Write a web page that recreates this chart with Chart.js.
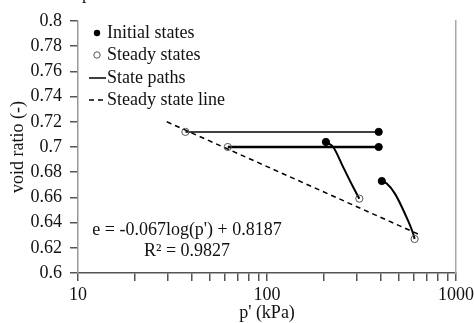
<!DOCTYPE html>
<html>
<head>
<meta charset="utf-8">
<script src="https://cdn.jsdelivr.net/npm/chart.js@4"></script>
<style>
  body { margin: 0; background: #fff; }
  #wrap { width: 474px; height: 323px; position: relative; }
</style>
</head>
<body>
<div id="wrap"><canvas id="stateChart"></canvas></div>
<script>
// p' (kPa) / void ratio values
const initialP = [390, 390, 205, 405];
const initialE = [0.712, 0.7, 0.704, 0.673];
const steadyP = [37, 62, 308, 604];
const steadyE = [0.712, 0.7, 0.659, 0.627];

const pathP = [
    [390, 37],
    [390, 62],
    [205, 224, 253, 286, 308],
    [405, 430, 475, 537, 594, 604],
];
const pathE = [
    [0.712, 0.712],
    [0.7, 0.7],
    [0.704, 0.7, 0.684, 0.668, 0.659],
    [0.673, 0.671, 0.663, 0.647, 0.631, 0.627],
];
const pathWidth = [1.5, 2.5, 2, 2];

const sslP = [29.5, 650];
const sslE = [0.72, 0.63];

const xTickLabels = ["10", "100", "1000"];
const yTickLabels = ["0.6", "0.62", "0.64", "0.66", "0.68", "0.7", "0.72", "0.74", "0.76", "0.78", "0.8"];

const legendLabels = ["Initial states", "Steady states", "State paths", "Steady state line"];
const fitText = ["e = -0.067log(p') + 0.8187", "R\u00b2 = 0.9827"];

const FONT = "'Liberation Serif', 'Times New Roman', serif";
const INK = "#111";

const toXY = (xs, ys) => xs.map((x, i) => ({ x: x, y: ys[i] }));

const datasets = [
    {
        label: legendLabels[0],
        data: toXY(initialP, initialE),
        showLine: false,
        pointRadius: 3.6,
        pointBackgroundColor: "#000",
        pointBorderColor: "#000",
        pointBorderWidth: 1,
    },
    {
        label: legendLabels[1],
        data: toXY(steadyP, steadyE),
        showLine: false,
        pointRadius: 3.6,
        pointBackgroundColor: "rgba(255,255,255,0)",
        pointBorderColor: "#555",
        pointBorderWidth: 1,
    },
];

pathP.forEach((xs, i) => {
    datasets.push({
        label: i === 0 ? legendLabels[2] : "",
        data: toXY(xs, pathE[i]),
        showLine: true,
        borderColor: "#000",
        borderWidth: pathWidth[i],
        pointRadius: 0,
        tension: 0.4,
        cubicInterpolationMode: "monotone",
    });
});

datasets.push({
    label: legendLabels[3],
    data: toXY(sslP, sslE),
    showLine: true,
    borderColor: "#000",
    borderWidth: 1.5,
    borderDash: [5, 4],
    pointRadius: 0,
});

// legend inside plot + trendline text
const overlayText = {
    id: "overlayText",
    afterDraw(chart) {
        const ctx = chart.ctx;
        ctx.save();
        ctx.font = "18px " + FONT;
        ctx.textBaseline = "middle";

        const rows = [33, 55, 78, 100];
        const textX = 107;

        // filled dot
        ctx.beginPath();
        ctx.arc(97, rows[0], 3.2, 0, Math.PI * 2);
        ctx.fillStyle = "#000";
        ctx.fill();
        // open dot
        ctx.beginPath();
        ctx.arc(97, rows[1], 3.2, 0, Math.PI * 2);
        ctx.strokeStyle = "#555";
        ctx.lineWidth = 1;
        ctx.stroke();
        // solid line
        ctx.beginPath();
        ctx.moveTo(89, rows[2]);
        ctx.lineTo(106, rows[2]);
        ctx.strokeStyle = "#000";
        ctx.lineWidth = 1.5;
        ctx.stroke();
        // dashed line
        ctx.setLineDash([5, 4]);
        ctx.beginPath();
        ctx.moveTo(89, rows[3]);
        ctx.lineTo(107, rows[3]);
        ctx.stroke();
        ctx.setLineDash([]);

        ctx.fillStyle = INK;
        ctx.textAlign = "left";
        legendLabels.forEach((t, i) => ctx.fillText(t, textX, rows[i]));

        ctx.textAlign = "center";
        ctx.fillText(fitText[0], 187, 230);
        ctx.fillText(fitText[1], 187, 251);

        // cut-off letter from the figure above
        ctx.textAlign = "left";
        ctx.textBaseline = "alphabetic";
        ctx.fillText("p", 82, -1);
        ctx.restore();
    },
};

// keep only 1..9 x 10^n ticks on the log axis
const isDecadeStep = (v) => {
    const sig = v / Math.pow(10, Math.floor(Math.log10(v) + 1e-9));
    return Math.abs(sig - Math.round(sig)) < 1e-6;
};

new Chart(document.getElementById("stateChart"), {
    type: "scatter",
    data: { datasets: datasets },
    options: {
        responsive: true,
        maintainAspectRatio: false,
        animation: false,
        layout: { padding: { top: 21, right: 18, left: 0, bottom: 0 } },
        plugins: {
            legend: { display: false },
            tooltip: { enabled: false },
        },
        scales: {
            x: {
                type: "logarithmic",
                min: 10,
                max: 1000,
                afterBuildTicks: (scale) => {
                    scale.ticks = scale.ticks.filter((t) => isDecadeStep(t.value));
                },
                afterFit: (scale) => {
                    scale.height = 50;
                    scale.paddingLeft = 0;
                    scale.paddingRight = 0;
                },
                grid: {
                    drawOnChartArea: false,
                    drawTicks: true,
                    tickLength: 8,
                    lineWidth: 1.5,
                    color: "#555",
                },
                border: { color: "#555", width: 1.5 },
                ticks: {
                    autoSkip: false,
                    maxRotation: 0,
                    padding: 5,
                    color: INK,
                    font: { family: FONT, size: 18, lineHeight: 1 },
                    callback: (v) => {
                        const label = String(v);
                        return xTickLabels.includes(label) ? label : "";
                    },
                },
                title: {
                    display: true,
                    text: "p' (kPa)",
                    color: INK,
                    padding: { top: 0, bottom: 1 },
                    font: { family: FONT, size: 18, lineHeight: 1 },
                },
            },
            y: {
                min: 0.6,
                max: 0.8,
                afterFit: (scale) => {
                    scale.width = 78;
                },
                grid: {
                    drawOnChartArea: false,
                    drawTicks: true,
                    tickLength: 8,
                    lineWidth: 1.5,
                    color: "#555",
                },
                border: { color: "#999", width: 1.5 },
                ticks: {
                    stepSize: 0.02,
                    padding: 8,
                    color: INK,
                    font: { family: FONT, size: 18, lineHeight: 1 },
                    callback: (v, i) => yTickLabels[i],
                },
                title: {
                    display: true,
                    text: "void ratio (-)",
                    color: INK,
                    padding: { top: 9, bottom: 0 },
                    font: { family: FONT, size: 18, lineHeight: 1 },
                },
            },
            yRight: {
                position: "right",
                min: 0.6,
                max: 0.8,
                afterFit: (scale) => {
                    scale.width = 0;
                },
                grid: { display: false, drawTicks: false },
                border: { color: "#aaa", width: 1.5 },
                ticks: { display: false },
            },
        },
    },
    plugins: [overlayText],
});
</script>
</body>
</html>
